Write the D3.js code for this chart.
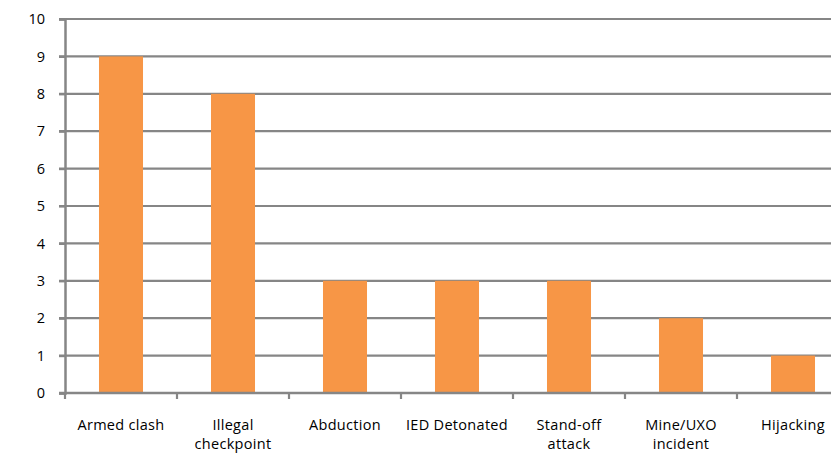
<!DOCTYPE html>
<html>
<head>
<meta charset="utf-8">
<script src="https://cdn.jsdelivr.net/npm/d3@7"></script>
<style>
  body { margin: 0; background: #fff; }
  svg { display: block; }
  text { font-family: "Open Sans", "Noto Sans", sans-serif; fill: #000; }
</style>
</head>
<body>
<svg width="831" height="453"></svg>
<script>
// data
const categories = ["Armed clash", "Illegal checkpoint", "Abduction", "IED Detonated", "Stand-off attack", "Mine/UXO incident", "Hijacking"];
const labelLines = [["Armed clash"], ["Illegal", "checkpoint"], ["Abduction"], ["IED Detonated"], ["Stand-off", "attack"], ["Mine/UXO", "incident"], ["Hijacking"]];
const values = [9, 8, 3, 3, 3, 2, 1];
const yTicks = [0, 1, 2, 3, 4, 5, 6, 7, 8, 9, 10];

const svg = d3.select("svg");
const plotL = 65, plotR = 849, plotT = 19, plotB = 393;
const gridColor = "#868686";

const x = d3.scaleBand()
  .domain(categories)
  .range([plotL, plotR])
  .paddingInner(0.607)
  .paddingOuter(0.3035);

const y = d3.scaleLinear().domain([0, 10]).range([plotB, plotT]);

// gridlines
svg.append("g").selectAll("line")
  .data(yTicks.filter(d => d > 0))
  .enter().append("line")
  .attr("x1", plotL - 6).attr("x2", plotR)
  .attr("y1", d => y(d)).attr("y2", d => y(d))
  .attr("stroke", gridColor).attr("stroke-width", 2.2);

// bars
svg.append("g").selectAll("rect")
  .data(values)
  .enter().append("rect")
  .attr("x", (d, i) => x(categories[i]))
  .attr("width", x.bandwidth())
  .attr("y", d => y(d))
  .attr("height", d => y(0) - y(d))
  .attr("fill", "#F79646");

// y axis
const yAxis = d3.axisLeft(y).tickValues(yTicks).tickSize(6).tickPadding(14).tickFormat(d3.format("d"));
const gy = svg.append("g").attr("transform", `translate(${plotL},0)`).call(yAxis);
gy.select(".domain").attr("stroke", gridColor).attr("stroke-width", 2.5);
gy.selectAll(".tick line").attr("stroke", gridColor).attr("stroke-width", 2.2);
gy.selectAll(".tick text").style("font-size", "14.5px").style("font-family", "'Open Sans', sans-serif").attr("fill", "#000");

// x axis line + ticks at band boundaries
svg.append("line")
  .attr("x1", plotL - 6).attr("x2", plotR)
  .attr("y1", plotB).attr("y2", plotB)
  .attr("stroke", gridColor).attr("stroke-width", 2.5);

const boundaries = categories.map(c => x(c) - x.step() * x.paddingInner() / 2);
svg.append("g").selectAll("line")
  .data(boundaries)
  .enter().append("line")
  .attr("x1", d => d).attr("x2", d => d)
  .attr("y1", plotB).attr("y2", plotB + 6)
  .attr("stroke", gridColor).attr("stroke-width", 2.2);

// category labels
const lbl = svg.append("g").selectAll("text")
  .data(categories)
  .enter().append("text")
  .attr("text-anchor", "middle")
  .attr("x", d => x(d) + x.bandwidth() / 2)
  .attr("y", 430)
  .style("font-size", "14.5px")
  .style("letter-spacing", "0.3px");
lbl.selectAll("tspan")
  .data((d, i) => labelLines[i])
  .enter().append("tspan")
  .attr("x", function() { return this.parentNode.getAttribute("x"); })
  .attr("dy", (d, i) => i === 0 ? 0 : 19)
  .text(d => d);
</script>
</body>
</html>
